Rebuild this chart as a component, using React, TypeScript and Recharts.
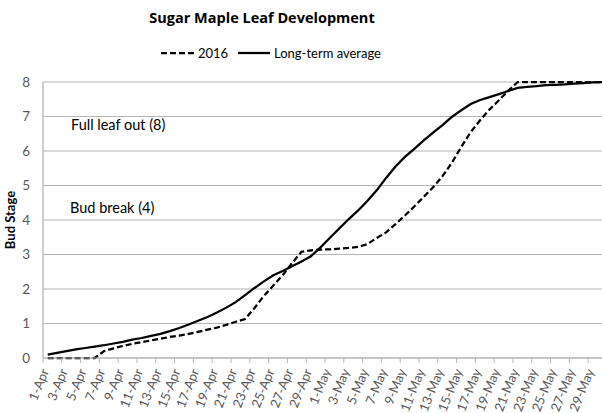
import React from 'react';
import { LineChart, Line, XAxis, YAxis, CartesianGrid } from 'recharts';

const dates = [
  '1-Apr','2-Apr','3-Apr','4-Apr','5-Apr','6-Apr','7-Apr','8-Apr','9-Apr','10-Apr',
  '11-Apr','12-Apr','13-Apr','14-Apr','15-Apr','16-Apr','17-Apr','18-Apr','19-Apr','20-Apr',
  '21-Apr','22-Apr','23-Apr','24-Apr','25-Apr','26-Apr','27-Apr','28-Apr','29-Apr','30-Apr',
  '1-May','2-May','3-May','4-May','5-May','6-May','7-May','8-May','9-May','10-May',
  '11-May','12-May','13-May','14-May','15-May','16-May','17-May','18-May','19-May','20-May',
  '21-May','22-May','23-May','24-May','25-May','26-May','27-May','28-May','29-May','30-May',
];

const series2016 = [
  0, 0, 0, 0, 0, 0, 0.2, 0.28, 0.35, 0.41,
  0.46, 0.51, 0.56, 0.61, 0.65, 0.7, 0.76, 0.82, 0.88, 0.96,
  1.05, 1.13, 1.45, 1.8, 2.1, 2.4, 2.75, 3.08, 3.12, 3.14,
  3.15, 3.17, 3.19, 3.22, 3.3, 3.48, 3.64, 3.88, 4.13, 4.39,
  4.67, 4.95, 5.27, 5.66, 6.12, 6.55, 6.89, 7.2, 7.47, 7.75,
  8, 8, 8, 8, 8, 8, 8, 8, 8, 8,
];

const seriesAvg = [
  0.1, 0.15, 0.2, 0.25, 0.29, 0.33, 0.37, 0.42, 0.47, 0.53,
  0.58, 0.64, 0.7, 0.78, 0.87, 0.97, 1.08, 1.19, 1.32, 1.46,
  1.62, 1.82, 2.03, 2.22, 2.4, 2.52, 2.66, 2.8, 2.95, 3.2,
  3.48, 3.75, 4.02, 4.27, 4.55, 4.86, 5.22, 5.55, 5.83, 6.06,
  6.31, 6.53, 6.75, 6.99, 7.18, 7.36, 7.48, 7.56, 7.65, 7.74,
  7.83, 7.86, 7.88, 7.91, 7.92, 7.93, 7.95, 7.97, 7.99, 8.0,
];

const yTicks = [0, 1, 2, 3, 4, 5, 6, 7, 8];

const data = dates.map((d, i) => ({ date: d, y2016: series2016[i], avg: seriesAvg[i] }));

const CHART_W = 607;
const PLOT_LEFT = 43;
const PLOT_BOTTOM = 358;
const BW = (CHART_W - PLOT_LEFT) / dates.length;
const GRID = '#b4b4b4';
const FONT = 'Lato, sans-serif';

const XTick = (props: any) => {
  const { x, payload } = props;
  const bx = x - BW / 2;
  const tx = x + 1.5;
  const ty = PLOT_BOTTOM + 13;
  return (
    <g>
      <line x1={bx} x2={bx} y1={PLOT_BOTTOM} y2={PLOT_BOTTOM + 5} stroke={GRID} strokeWidth={1} />
      <text
        x={tx}
        y={ty}
        textAnchor="end"
        fontSize={13}
        fontFamily={FONT}
        fill="#595959"
        transform={`rotate(-68, ${tx}, ${ty})`}
      >
        {payload.value}
      </text>
    </g>
  );
};

export default function App() {
  return (
    <div style={{ position: 'absolute', left: 0, top: 0, width: 602, height: 413, overflow: 'hidden', background: '#fff' }}>
      <LineChart width={CHART_W} height={413} data={data} margin={{ top: 82, right: 0, bottom: 5, left: 0 }}>
        <CartesianGrid vertical={false} stroke={GRID} strokeWidth={1} />
        <XAxis
          dataKey="date"
          scale="band"
          interval={1}
          height={50}
          axisLine={{ stroke: GRID }}
          tickLine={false}
          tick={<XTick />}
        />
        <YAxis
          domain={[0, 8]}
          ticks={yTicks}
          width={43}
          axisLine={{ stroke: '#bdbdbd', strokeWidth: 1.5 }}
          tickLine={false}
          tickMargin={7}
          tick={{ fill: '#595959', fontSize: 13.5, fontFamily: FONT }}
        />
        <Line
          dataKey="y2016"
          type="linear"
          stroke="#000"
          strokeWidth={2.25}
          strokeDasharray="6 3"
          dot={false}
          isAnimationActive={false}
        />
        <Line
          dataKey="avg"
          type="linear"
          stroke="#000"
          strokeWidth={2.25}
          dot={false}
          isAnimationActive={false}
        />
      </LineChart>
      <svg width={602} height={413} style={{ position: 'absolute', left: 0, top: 0, pointerEvents: 'none' }}>
        <text x={262} y={23} textAnchor="middle" fontFamily="'Open Sans', sans-serif" fontWeight={700} fontSize={14.5} fill="#000">
          Sugar Maple Leaf Development
        </text>
        <line x1={161} x2={195} y1={53} y2={53} stroke="#000" strokeWidth={2.25} strokeDasharray="6 3" />
        <text x={198} y={57.5} fontFamily={FONT} fontSize={13} fill="#000">2016</text>
        <line x1={238} x2={270} y1={53} y2={53} stroke="#000" strokeWidth={2.25} />
        <text x={274} y={57.5} fontFamily={FONT} fontSize={13} fill="#000">Long-term average</text>
        <text x={71} y={130} fontFamily={FONT} fontSize={14.5} fill="#000">Full leaf out (8)</text>
        <text x={70} y={213} fontFamily={FONT} fontSize={14.5} fill="#000">Bud break (4)</text>
        <text transform="translate(15,220) rotate(-90)" textAnchor="middle" fontFamily={FONT} fontWeight={700} fontSize={13} fill="#000">
          Bud Stage
        </text>
      </svg>
    </div>
  );
}
